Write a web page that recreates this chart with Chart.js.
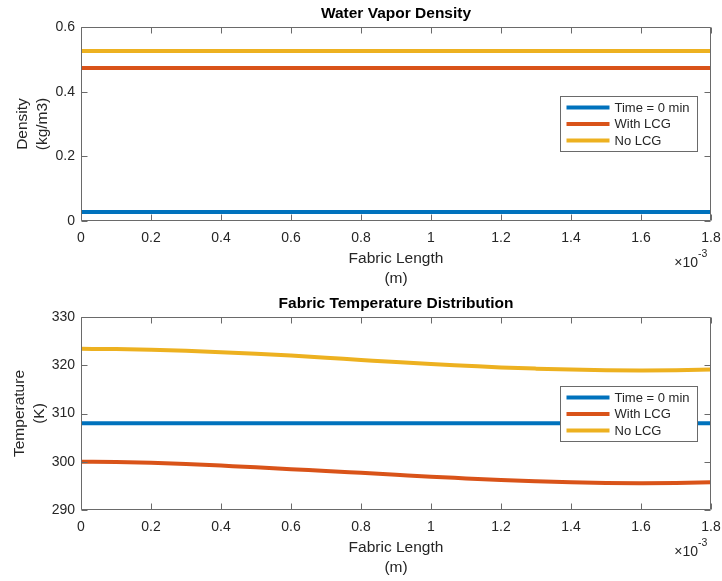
<!DOCTYPE html>
<html>
<head>
<meta charset="utf-8">
<script src="https://cdn.jsdelivr.net/npm/chart.js@4"></script>
<style>
  html, body { margin: 0; padding: 0; background: #ffffff; }
  canvas { position: absolute; left: 0; }
</style>
</head>
<body>
<canvas id="densityChart" width="722" height="290" style="top:0px"></canvas>
<canvas id="temperatureChart" width="722" height="291" style="top:290px"></canvas>
<script>
// Positions through the fabric thickness, in units of 1e-3 m
const fabricPositions = [0, 0.1, 0.2, 0.3, 0.4, 0.5, 0.6, 0.7, 0.8, 0.9, 1.0, 1.1, 1.2, 1.3, 1.4, 1.5, 1.6, 1.7, 1.8];

const seriesNames = ['Time = 0 min', 'With LCG', 'No LCG'];
const seriesColors = ['#0072BD', '#D95319', '#EDB120'];

// Water vapor density (kg/m3)
const densityTimeZero = [0.028, 0.028, 0.028, 0.028, 0.028, 0.028, 0.028, 0.028, 0.028, 0.028, 0.028, 0.028, 0.028, 0.028, 0.028, 0.028, 0.028, 0.028, 0.028];
const densityWithLcg  = [0.473, 0.473, 0.473, 0.473, 0.473, 0.473, 0.473, 0.473, 0.473, 0.473, 0.473, 0.473, 0.473, 0.473, 0.473, 0.473, 0.473, 0.473, 0.473];
const densityNoLcg    = [0.526, 0.526, 0.526, 0.526, 0.526, 0.526, 0.526, 0.526, 0.526, 0.526, 0.526, 0.526, 0.526, 0.526, 0.526, 0.526, 0.526, 0.526, 0.526];

// Fabric temperature (K)
const temperatureTimeZero = [308, 308, 308, 308, 308, 308, 308, 308, 308, 308, 308, 308, 308, 308, 308, 308, 308, 308, 308];
const temperatureWithLcg  = [300.0, 299.95, 299.8, 299.55, 299.2, 298.85, 298.45, 298.1, 297.7, 297.3, 296.9, 296.55, 296.2, 295.95, 295.75, 295.6, 295.55, 295.6, 295.75];
const temperatureNoLcg    = [323.4, 323.35, 323.2, 323.0, 322.7, 322.4, 322.0, 321.55, 321.1, 320.65, 320.25, 319.9, 319.55, 319.3, 319.1, 318.95, 318.9, 318.95, 319.1];

// Tick values
const xTickValues = [0, 0.2, 0.4, 0.6, 0.8, 1.0, 1.2, 1.4, 1.6, 1.8];
const densityTickValues = [0, 0.2, 0.4, 0.6];
const temperatureTickValues = [290, 300, 310, 320, 330];

const FONT = "'Liberation Sans', Arial, Helvetica, sans-serif";
const TEXT = '#262626';
const AXIS = '#6a6a6a';
const TICK_SIZE = 14;
const LABEL_SIZE = 15.5;

const formatTick = v => String(Math.round(v * 10) / 10);

// Box outline, inward tick marks, x exponent and the legend
const axesFrame = {
  id: 'axesFrame',
  afterDatasetsDraw(chart) {
    const ctx = chart.ctx;
    const a = chart.chartArea;
    const xs = chart.scales.x, ys = chart.scales.y;
    const L = Math.round(a.left) + 0.5, R = Math.round(a.right) - 0.5;
    const T = Math.round(a.top) + 0.5, B = Math.round(a.bottom) - 0.5;
    const tick = 6;
    ctx.save();
    ctx.strokeStyle = AXIS;
    ctx.lineWidth = 1;
    ctx.beginPath();
    ctx.rect(L, T, R - L, B - T);
    xs.ticks.forEach(t => {
      const px = Math.round(xs.getPixelForValue(t.value)) + 0.5;
      ctx.moveTo(px, B); ctx.lineTo(px, B - tick);
      ctx.moveTo(px, T); ctx.lineTo(px, T + tick);
    });
    ys.ticks.forEach(t => {
      const py = Math.round(ys.getPixelForValue(t.value)) + 0.5;
      ctx.moveTo(L, py); ctx.lineTo(L + tick, py);
      ctx.moveTo(R, py); ctx.lineTo(R - tick, py);
    });
    ctx.stroke();

    // x10^-3 multiplier under the right end of the x axis
    ctx.fillStyle = TEXT;
    ctx.textBaseline = 'middle';
    ctx.textAlign = 'right';
    ctx.font = `${TICK_SIZE}px ${FONT}`;
    ctx.fillText('\u00D710', a.right - 13, a.bottom + 42);
    ctx.textAlign = 'left';
    ctx.font = `10.5px ${FONT}`;
    ctx.fillText('-3', a.right - 13, a.bottom + 33);

    // Legend
    const boxW = 137, boxH = 55;
    const bx = Math.round(a.right - 14 - boxW) + 0.5;
    const by = Math.round(a.top + 69) + 0.5;
    ctx.fillStyle = '#ffffff';
    ctx.fillRect(bx, by, boxW, boxH);
    ctx.strokeStyle = AXIS;
    ctx.strokeRect(bx, by, boxW, boxH);
    ctx.font = `13px ${FONT}`;
    ctx.textAlign = 'left';
    ctx.textBaseline = 'middle';
    chart.data.datasets.forEach((ds, i) => {
      const ry = by + 11 + i * 16.5;
      ctx.strokeStyle = ds.borderColor;
      ctx.lineWidth = 4;
      ctx.beginPath();
      ctx.moveTo(bx + 6, ry);
      ctx.lineTo(bx + 49, ry);
      ctx.stroke();
      ctx.fillStyle = TEXT;
      ctx.fillText(ds.label, bx + 54, ry + 0.5);
    });
    ctx.restore();
  }
};

function buildChart(id, cfg) {
  return new Chart(document.getElementById(id), {
    type: 'line',
    data: {
      datasets: cfg.series.map((vals, i) => ({
        label: seriesNames[i],
        data: fabricPositions.map((x, j) => ({ x: x, y: vals[j] })),
        borderColor: seriesColors[i],
        backgroundColor: seriesColors[i],
        borderWidth: 4,
        pointRadius: 0,
        cubicInterpolationMode: 'monotone',
        fill: false
      }))
    },
    options: {
      responsive: false,
      animation: false,
      devicePixelRatio: 1,
      layout: { padding: { left: 0, right: 11, top: 0, bottom: 0 } },
      plugins: {
        legend: { display: false },
        tooltip: { enabled: false },
        title: {
          display: true,
          text: cfg.title,
          fullSize: false,
          color: '#000000',
          font: { family: FONT, size: LABEL_SIZE, weight: 'bold', lineHeight: 1.2 },
          padding: { top: 4, bottom: 4.4 }
        }
      },
      scales: {
        x: {
          type: 'linear',
          min: 0,
          max: 1.8,
          afterBuildTicks: s => { s.ticks = xTickValues.map(v => ({ value: v })); },
          afterFit: s => { s.height = cfg.xAxisHeight; s.paddingLeft = 0; s.paddingRight = 0; },
          grid: { display: false, drawTicks: false },
          border: { display: false },
          ticks: {
            padding: 9, color: TEXT, maxRotation: 0, autoSkip: false,
            font: { family: FONT, size: TICK_SIZE },
            callback: formatTick
          },
          title: {
            display: true,
            text: ['Fabric Length', '(m)'],
            color: TEXT,
            font: { family: FONT, size: LABEL_SIZE, lineHeight: 20 / LABEL_SIZE },
            padding: { top: 0, bottom: cfg.xTitlePad }
          }
        },
        y: {
          type: 'linear',
          min: cfg.yMin,
          max: cfg.yMax,
          afterBuildTicks: s => { s.ticks = cfg.yTicks.map(v => ({ value: v })); },
          afterFit: s => { s.width = 81; },
          grid: { display: false, drawTicks: false },
          border: { display: false },
          ticks: {
            padding: 6, color: TEXT,
            font: { family: FONT, size: TICK_SIZE },
            callback: formatTick
          },
          title: {
            display: true,
            text: cfg.yTitle,
            color: TEXT,
            font: { family: FONT, size: LABEL_SIZE, lineHeight: 20 / LABEL_SIZE },
            padding: { top: cfg.yTitlePad, bottom: 0 }
          }
        }
      }
    },
    plugins: [axesFrame]
  });
}

buildChart('densityChart', {
  title: 'Water Vapor Density',
  series: [densityTimeZero, densityWithLcg, densityNoLcg],
  yMin: 0, yMax: 0.6, yTicks: densityTickValues,
  yTitle: ['Density', '(kg/m3)'],
  xAxisHeight: 69, xTitlePad: 1, yTitlePad: 12.5
});

buildChart('temperatureChart', {
  title: 'Fabric Temperature Distribution',
  series: [temperatureTimeZero, temperatureWithLcg, temperatureNoLcg],
  yMin: 290, yMax: 330, yTicks: temperatureTickValues,
  yTitle: ['Temperature', '(K)'],
  xAxisHeight: 71, xTitlePad: 3, yTitlePad: 9.5
});
</script>
</body>
</html>
